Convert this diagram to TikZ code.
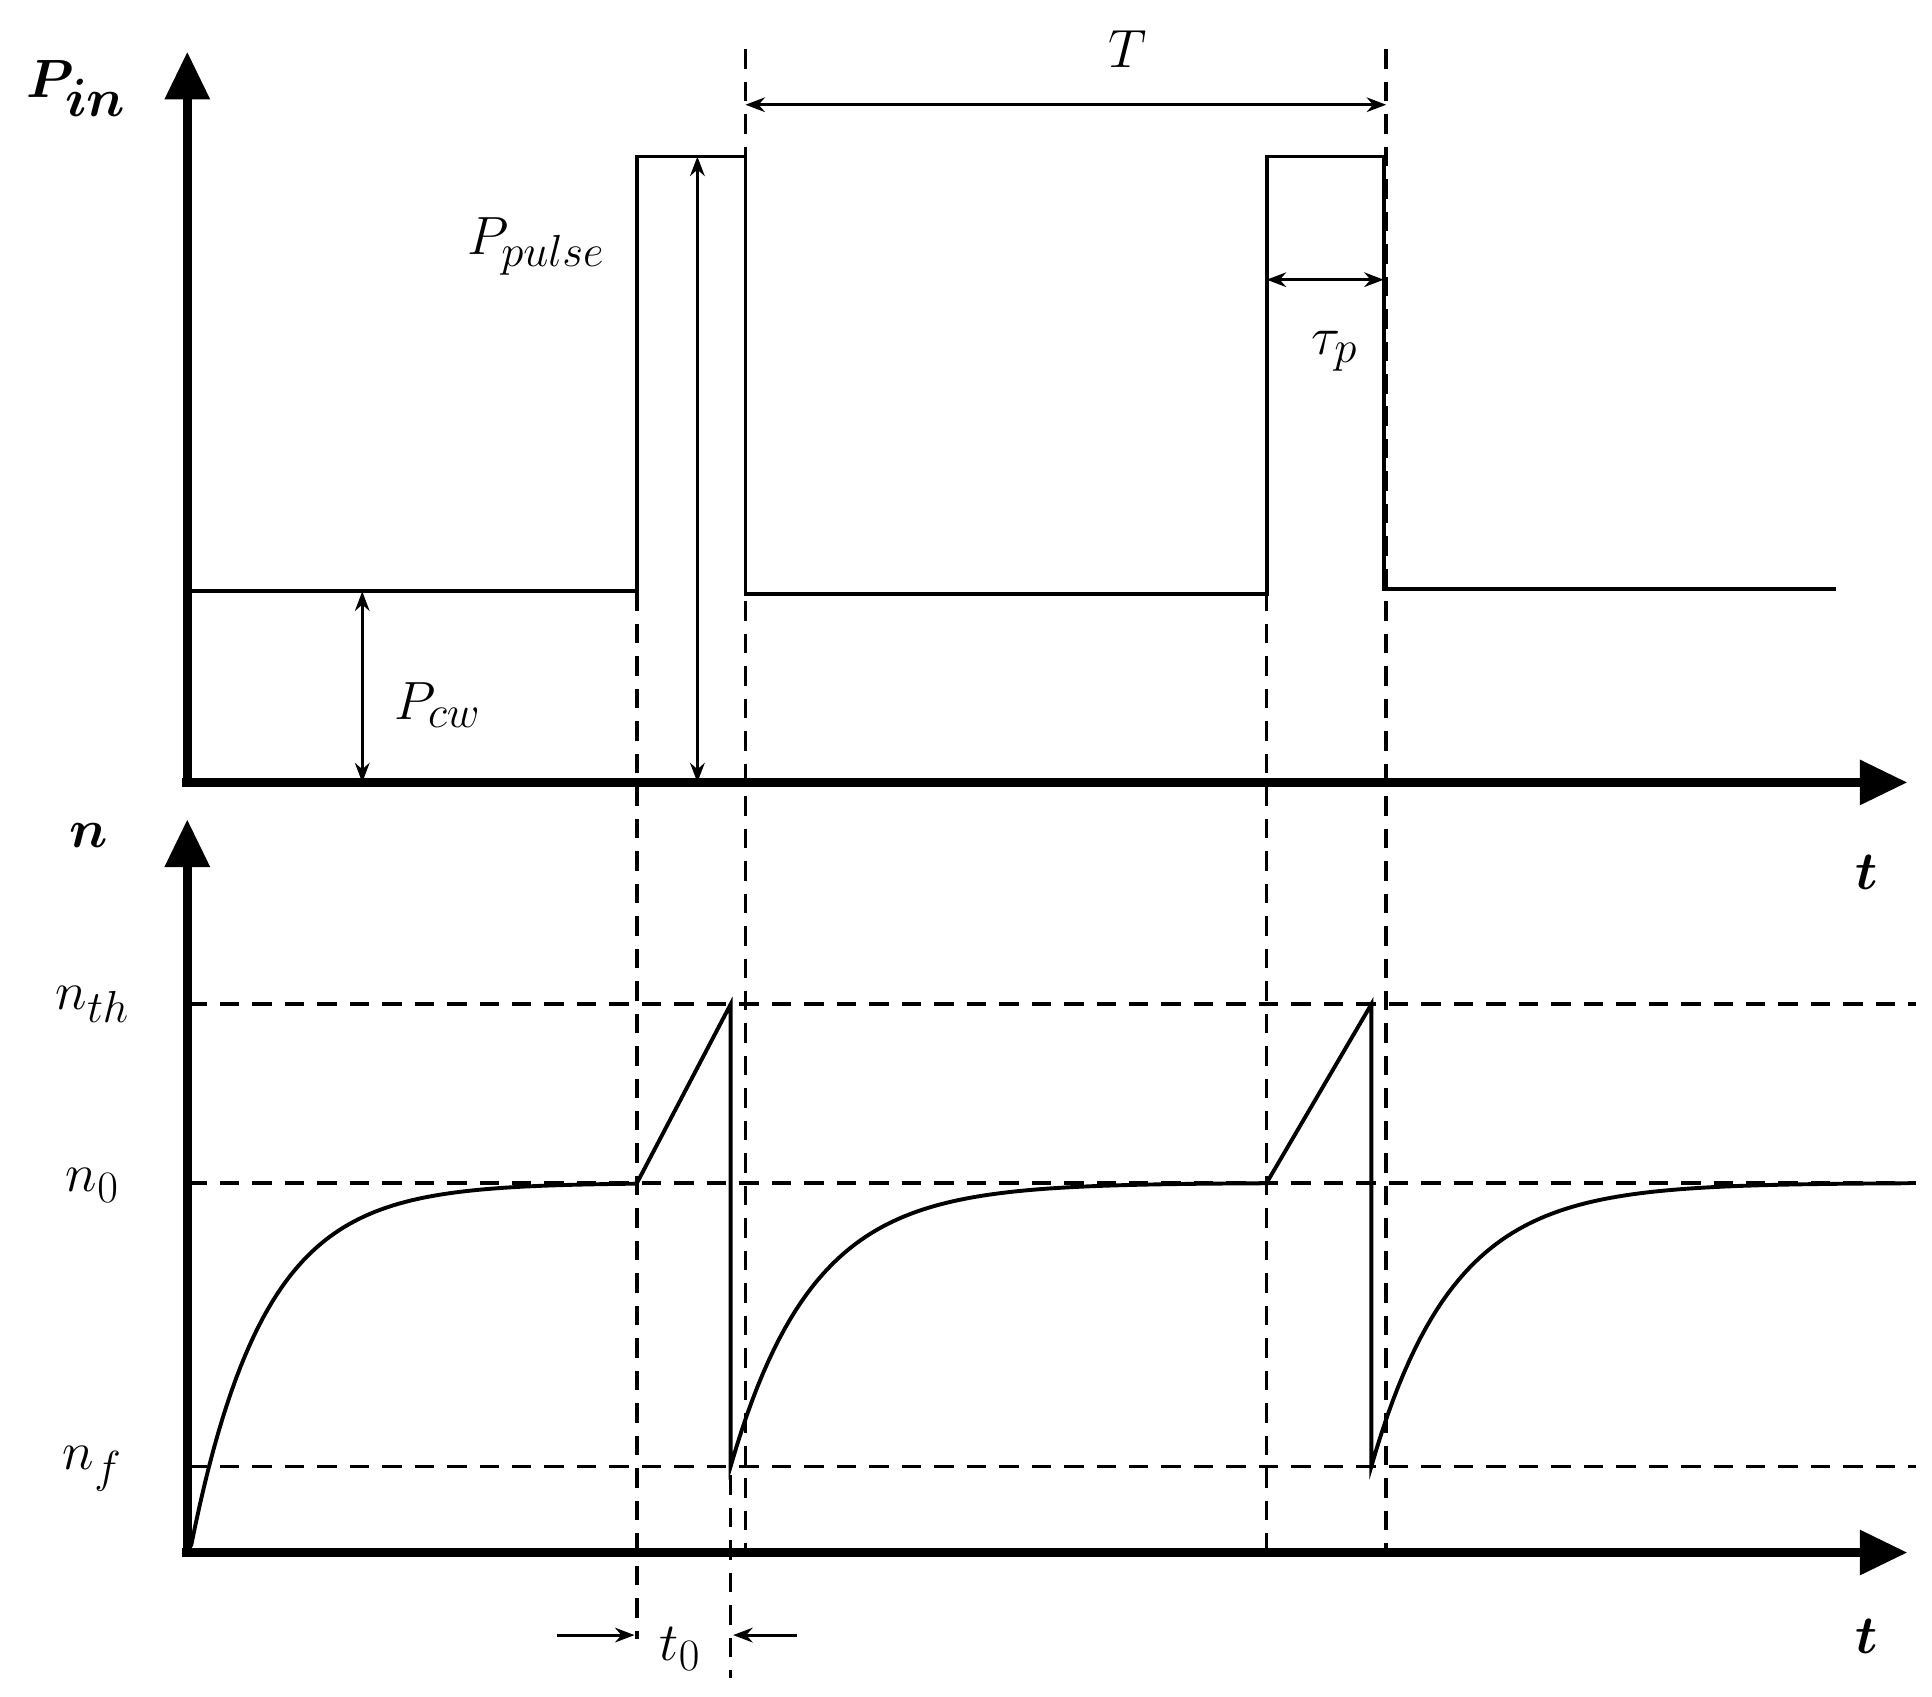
\documentclass[tikz,border=0pt]{standalone}
\usepackage{amsmath,bm}
\usetikzlibrary{arrows.meta}
\begin{document}
\begin{tikzpicture}[x=0.02cm,y=-0.02cm,
  axis/.style={line width=4pt,-{Triangle[length=22pt,width=20pt]}},
  sig/.style={line width=1.8pt},
  dsh/.style={line width=1.6pt,dash pattern=on 9pt off 6pt},
  dim/.style={line width=1.4pt,{Stealth[length=9pt]}-{Stealth[length=9pt]}},
  lbl/.style={font=\fontsize{30}{34}\selectfont},
  bl/.style={font=\fontsize{34}{38}\selectfont\bfseries}]
\useasboundingbox (0,0) rectangle (1568,1377);
\coordinate (o1) at (152,635); \coordinate (yt1) at (152,42); \coordinate (xt1) at (1548,635);
\coordinate (o2) at (152,1260); \coordinate (yt2) at (152,665); \coordinate (xt2) at (1548,1260);
\coordinate (a1) at (517,480); \coordinate (a2) at (517,1330);
\coordinate (b1) at (605,40); \coordinate (b2) at (605,1260);
\coordinate (c1) at (593,960); \coordinate (c2) at (593,1362);
\coordinate (d1) at (1028,480); \coordinate (d2) at (1028,1260);
\coordinate (e1) at (1125,40); \coordinate (e2) at (1125,1260);
\draw[dsh] (a1)--(a2); \draw[dsh] (b1)--(b2); \draw[dsh] (c1)--(c2);
\draw[dsh] (d1)--(d2); \draw[dsh] (e1)--(e2);
\coordinate (h1a) at (152,815); \coordinate (h1b) at (1555,815);
\coordinate (h2a) at (152,960); \coordinate (h2b) at (1555,960);
\coordinate (h3a) at (152,1190); \coordinate (h3b) at (1555,1190);
\draw[dsh] (h1a)--(h1b); \draw[dsh] (h2a)--(h2b); \draw[dsh] (h3a)--(h3b);
\draw[axis] (152,639)--(yt1); \draw[axis] (148,635)--(xt1);
\draw[axis] (152,1264)--(yt2); \draw[axis] (148,1260)--(xt2);
\draw[sig] (152,480)--(517,480)--(517,127)--(605,127)--(605,482)--(1028,482)--(1028,127)--(1123,127)--(1123,478)--(1490,478);
\draw[sig] plot[domain=0:362,samples=100] ({155+\x},{960+295*exp(-\x/59)})
  -- (517,960) -- (593,815) -- (593,1190)
  -- plot[domain=0:435,samples=100] ({593+\x},{960+230*exp(-\x/66)})
  -- (1028,960) -- (1113,815) -- (1113,1190)
  -- plot[domain=0:437,samples=100] ({1113+\x},{960+230*exp(-\x/66)});
\coordinate (T1) at (605,85); \coordinate (T2) at (1125,85);
\draw[dim] (T1)--(T2);
\node[lbl] (Tl) at (915,40) {$T$};
\coordinate (pp1) at (566,127); \coordinate (pp2) at (566,635);
\draw[dim] (pp1)--(pp2);
\node[lbl] (ppl) at (435,200) {$P_{pulse}$};
\coordinate (pc1) at (294,480); \coordinate (pc2) at (294,635);
\draw[dim] (pc1)--(pc2);
\node[lbl] (pcl) at (355,572) {$P_{cw}$};
\coordinate (tp1) at (1028,227); \coordinate (tp2) at (1123,227);
\draw[dim] (tp1)--(tp2);
\node[lbl] (tpl) at (1083,285) {$\tau_p$};
\coordinate (t0a) at (452,1327); \coordinate (t0b) at (515,1327);
\coordinate (t0c) at (647,1327); \coordinate (t0d) at (595,1327);
\draw[line width=1.4pt,-{Stealth[length=9pt]}] (t0a)--(t0b);
\draw[line width=1.4pt,-{Stealth[length=9pt]}] (t0c)--(t0d);
\node[lbl] (t0l) at (552,1338) {$t_0$};
\node[lbl] (nth) at (75,815) {$n_{th}$};
\node[lbl] (n0) at (75,962) {$n_0$};
\node[lbl] (nf) at (75,1192) {$n_f$};
\node[bl] (pin) at (62,72) {$\bm{P_{in}}$};
\node[bl] (nl) at (72,678) {$\bm{n}$};
\node[bl] (tl1) at (1515,708) {$\bm{t}$};
\node[bl] (tl2) at (1515,1328) {$\bm{t}$};
\end{tikzpicture}
\end{document}
